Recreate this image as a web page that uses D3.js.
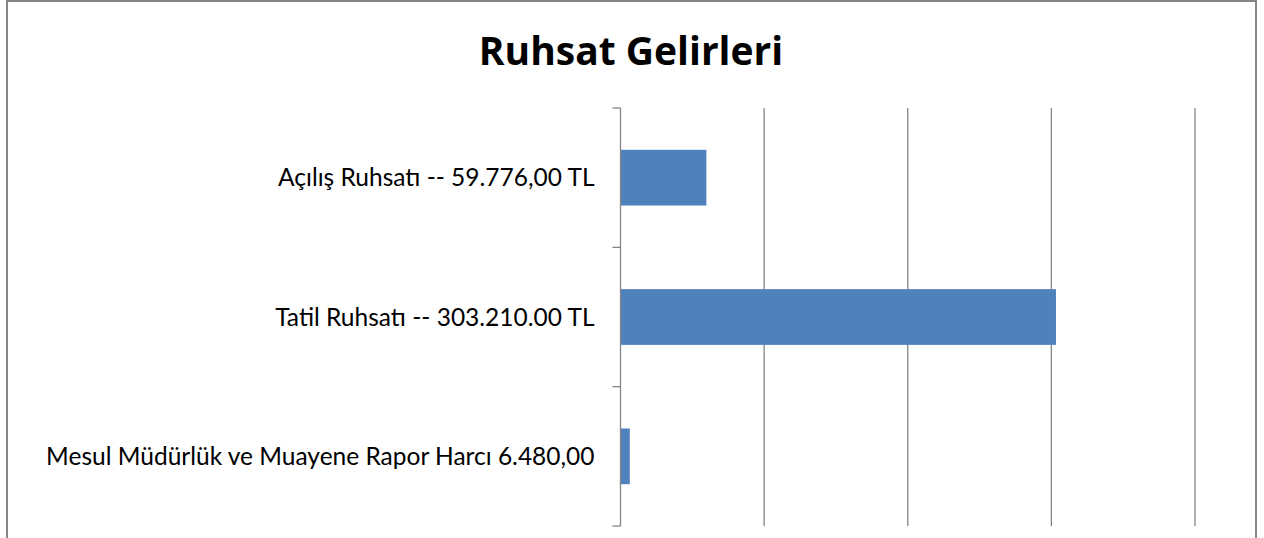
<!DOCTYPE html>
<html>
<head>
<meta charset="utf-8">
<script src="https://cdn.jsdelivr.net/npm/d3@7"></script>
<style>
    body { margin: 0; background: #fff; }
    svg { display: block; }
    .cat-label { font-family: Lato, "Open Sans", sans-serif; font-size: 24.5px; fill: #000; }
    .title { font-family: "Open Sans", sans-serif; font-size: 39px; font-weight: bold; fill: #000; }
</style>
</head>
<body>
<div id="chart"></div>
<script>
// chart data
let categories = ["Açılış Ruhsatı -- 59.776,00 TL", "Tatil Ruhsatı -- 303.210.00 TL", "Mesul Müdürlük ve Muayene Rapor Harcı 6.480,00"];
let values = [59776, 303210, 6480];
let xTicks = [0, 100000, 200000, 300000, 400000];

let margin = {top: 108, right: 69, bottom: 12, left: 620.5};
let totalW = 1264, totalH = 538;
let width = totalW - margin.left - margin.right;
let height = totalH - margin.top - margin.bottom;

let svg = d3.select("#chart").append("svg")
    .attr("width", totalW)
    .attr("height", totalH);

// outer frame
svg.append("rect")
    .attr("x", 7)
    .attr("y", 1)
    .attr("width", 1249)
    .attr("height", 560)
    .attr("fill", "none")
    .attr("stroke", "#868686")
    .attr("stroke-width", 2);

svg.append("text")
    .attr("class", "title")
    .attr("x", 631)
    .attr("y", 65)
    .attr("text-anchor", "middle")
    .text("Ruhsat Gelirleri");

let g = svg.append("g")
    .attr("transform", "translate(" + margin.left + "," + margin.top + ")");

let x = d3.scaleLinear()
    .domain([0, 400000])
    .range([0, width]);

let y = d3.scaleBand()
    .domain(categories)
    .range([0, height])
    .paddingInner(0.6)
    .paddingOuter(0.3);

// gridlines
g.selectAll("line.grid")
    .data(xTicks.slice(1))
    .enter()
    .append("line")
    .attr("class", "grid")
    .attr("x1", d => x(d))
    .attr("x2", d => x(d))
    .attr("y1", 0)
    .attr("y2", height)
    .attr("stroke", "#868686")
    .attr("stroke-width", 1.3);

// bars
g.selectAll("rect.bar")
    .data(values)
    .enter()
    .append("rect")
    .attr("class", "bar")
    .attr("x", 0)
    .attr("y", (d, i) => y(categories[i]))
    .attr("width", d => x(d))
    .attr("height", y.bandwidth())
    .attr("fill", "#4f81bd");

// y axis with ticks between categories
let step = height / categories.length;
g.append("line")
    .attr("x1", 0).attr("x2", 0)
    .attr("y1", 0).attr("y2", height)
    .attr("stroke", "#868686")
    .attr("stroke-width", 1.3);

g.selectAll("line.ytick")
    .data(d3.range(categories.length + 1))
    .enter()
    .append("line")
    .attr("class", "ytick")
    .attr("x1", -8).attr("x2", 0)
    .attr("y1", d => d * step)
    .attr("y2", d => d * step)
    .attr("stroke", "#868686")
    .attr("stroke-width", 1.3);

g.selectAll("text.cat-label")
    .data(categories)
    .enter()
    .append("text")
    .attr("class", "cat-label")
    .attr("x", -26)
    .attr("y", d => y(d) + y.bandwidth() / 2)
    .attr("dy", "0.36em")
    .attr("text-anchor", "end")
    .text(d => d);
</script>
</body>
</html>
